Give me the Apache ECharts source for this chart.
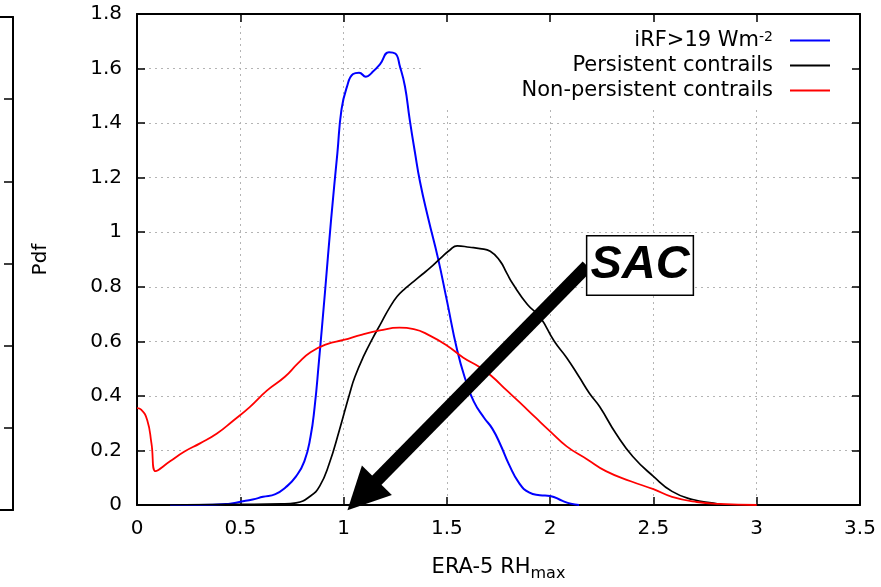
<!DOCTYPE html>
<html>
<head>
<meta charset="utf-8">
<script src="https://cdn.jsdelivr.net/npm/echarts@6/dist/echarts.min.js"></script>
<style>
html, body { margin: 0; padding: 0; background: #fff; }
#chart { width: 881px; height: 587px; }
</style>
</head>
<body>
<div id="chart"></div>
<script>
// pdf curves, [RHmax, pdf]
var irfHigh = [
    [0.16, 0], [0.3, 0], [0.45, 0.005], [0.5, 0.012], [0.56, 0.02], [0.61, 0.03], [0.67, 0.04],
    [0.72, 0.065], [0.77, 0.105], [0.81, 0.16], [0.84, 0.25], [0.86, 0.36], [0.88, 0.52],
    [0.91, 0.78], [0.94, 1.05], [0.97, 1.29], [0.99, 1.45], [1.015, 1.53], [1.046, 1.58], [1.075, 1.585],
    [1.108, 1.57], [1.137, 1.585], [1.176, 1.615], [1.22, 1.66], [1.25, 1.655], [1.273, 1.607],
    [1.297, 1.535], [1.32, 1.414], [1.345, 1.295], [1.37, 1.185], [1.41, 1.05], [1.457, 0.905],
    [1.5, 0.75], [1.55, 0.567], [1.59, 0.46], [1.63, 0.38], [1.68, 0.32], [1.72, 0.28], [1.76, 0.22],
    [1.8, 0.15], [1.85, 0.08], [1.9, 0.045], [1.95, 0.036], [2.0, 0.033], [2.06, 0.015], [2.1, 0.005],
    [2.14, 0]
];
var persistent = [
    [0.1, 0], [0.5, 0.002], [0.7, 0.004], [0.77, 0.008], [0.84, 0.033], [0.885, 0.07], [0.93, 0.15],
    [0.98, 0.275], [1.03, 0.41], [1.055, 0.47], [1.1, 0.55], [1.14, 0.61], [1.18, 0.665], [1.22, 0.72],
    [1.26, 0.765], [1.3, 0.795], [1.34, 0.82], [1.38, 0.845], [1.42, 0.87], [1.47, 0.905], [1.515, 0.935],
    [1.55, 0.95], [1.61, 0.945], [1.66, 0.94], [1.71, 0.93], [1.757, 0.895], [1.79, 0.85], [1.82, 0.81],
    [1.89, 0.735], [1.95, 0.69], [2.02, 0.6], [2.08, 0.54], [2.14, 0.47], [2.19, 0.41], [2.24, 0.36],
    [2.32, 0.26], [2.4, 0.178], [2.5, 0.105], [2.59, 0.05], [2.69, 0.02], [2.79, 0.007], [2.86, 0],
    [2.9, 0]
];
var nonPersistent = [
    [0, 0.355], [0.02, 0.35], [0.05, 0.31], [0.07, 0.226], [0.09, 0.124], [0.16, 0.16], [0.23, 0.196],
    [0.305, 0.226], [0.387, 0.262], [0.467, 0.31], [0.547, 0.36], [0.63, 0.42], [0.716, 0.47],
    [0.78, 0.52], [0.84, 0.56], [0.92, 0.59], [1.0, 0.605], [1.09, 0.625], [1.176, 0.64], [1.27, 0.65],
    [1.34, 0.645], [1.42, 0.62], [1.5, 0.585], [1.58, 0.54], [1.66, 0.505], [1.72, 0.47], [1.79, 0.42],
    [1.85, 0.378], [1.93, 0.32], [2.0, 0.27], [2.08, 0.215], [2.18, 0.167], [2.27, 0.124], [2.39, 0.087],
    [2.5, 0.058], [2.59, 0.03], [2.71, 0.011], [2.82, 0.004], [3.0, 0]
];
var seriesNames = ['iRF>19 Wm-2', 'Persistent contrails', 'Non-persistent contrails'];
var seriesColors = ['#0000ff', '#000000', '#ff0000'];

// axis ranges: [min, max, interval]
var xRange = [0, 3.5, 0.5];
var yRange = [0, 1.8, 0.2];

// SAC annotation (data coords)
var sacText = 'SAC';
var sacPos = [2.435, 0.878];
var arrowFrom = [2.18, 0.876];
var arrowTo = [1.09, 0.036];

var font = 'DejaVu Sans';
var gridLine = { show: true, lineStyle: { color: '#b4b4b4', width: 1, type: [2, 4] } };
var black = { color: '#000', width: 2 };
var tick = { show: true, inside: true, length: 8, lineStyle: { color: '#000', width: 1.5 } };

var chart = echarts.init(document.getElementById('chart'));

function mirrorAxis(pos, range) {
    return {
        type: 'value', gridIndex: 0, position: pos, z: 5,
        min: range[0], max: range[1], interval: range[2],
        axisLine: { show: true, onZero: false, lineStyle: black },
        axisTick: tick,
        axisLabel: { show: false },
        splitLine: { show: false }
    };
}

function edgeAxis(pos) {
    return {
        type: 'value', gridIndex: 1, min: 0, max: 1, position: pos,
        axisLine: { show: true, onZero: false, lineStyle: black },
        axisTick: { show: false }, axisLabel: { show: false }, splitLine: { show: false }
    };
}

var option = {
    animation: false,
    backgroundColor: '#fff',
    grid: [
        { left: 137, right: 21, top: 14, bottom: 78 },
        // edge of the neighbouring panel
        { left: 0, right: 868, top: 17, bottom: 77 }
    ],
    legend: {
        orient: 'vertical',
        align: 'right',
        right: 23,
        top: 16,
        padding: [14, 28, 6, 100],
        backgroundColor: '#fff',
        z: 3,
        itemWidth: 40,
        itemHeight: 2,
        itemGap: 4,
        selectedMode: false,
        icon: 'rect',
        data: seriesNames,
        formatter: function(name) {
            if (name === seriesNames[0]) {
                return '{n|iRF>19 Wm}{s|-2}';
            }
            return '{n|' + name + '}';
        },
        textStyle: {
            padding: [0, 12, 0, 0],
            rich: {
                n: { fontFamily: font, fontSize: 21, lineHeight: 20, color: '#000' },
                s: { fontFamily: font, fontSize: 14, lineHeight: 14, verticalAlign: 'top', color: '#000' }
            }
        }
    },
    xAxis: [
        {
            type: 'value', gridIndex: 0,
            min: xRange[0], max: xRange[1], interval: xRange[2],
            name: '{n|ERA-5 RH}{s|max}',
            nameLocation: 'middle',
            nameGap: 49,
            nameTextStyle: {
                rich: {
                    n: { fontFamily: font, fontSize: 21, color: '#000' },
                    s: { fontFamily: font, fontSize: 16, color: '#000', padding: [12, 0, 0, 0] }
                }
            },
            axisLine: { show: true, onZero: false, lineStyle: black },
            axisTick: tick,
            axisLabel: { fontFamily: font, fontSize: 20, color: '#000', margin: 14 },
            splitLine: gridLine
        },
        mirrorAxis('top', xRange),
        edgeAxis('bottom'),
        edgeAxis('top')
    ],
    yAxis: [
        {
            type: 'value', gridIndex: 0,
            min: yRange[0], max: yRange[1], interval: yRange[2],
            name: 'Pdf',
            nameLocation: 'middle',
            nameGap: 86,
            nameTextStyle: { fontFamily: font, fontSize: 20, color: '#000' },
            axisLine: { show: true, onZero: false, lineStyle: black },
            axisTick: tick,
            axisLabel: { fontFamily: font, fontSize: 20, color: '#000', margin: 15 },
            splitLine: gridLine
        },
        mirrorAxis('right', yRange),
        {
            type: 'value', gridIndex: 1, min: 0, max: 6, interval: 1, position: 'right',
            axisLine: { show: true, onZero: false, lineStyle: black },
            axisTick: { show: true, inside: true, length: 9, lineStyle: { color: '#000', width: 1.5 } },
            axisLabel: { show: false }, splitLine: { show: false }
        }
    ],
    series: [
        {
            name: seriesNames[0], type: 'line', data: irfHigh,
            showSymbol: false, smooth: 0.5,
            lineStyle: { color: seriesColors[0], width: 2 },
            itemStyle: { color: seriesColors[0] }
        },
        {
            name: seriesNames[1], type: 'line', data: persistent,
            showSymbol: false, smooth: 0.5,
            lineStyle: { color: seriesColors[1], width: 1.7 },
            itemStyle: { color: seriesColors[1] }
        },
        {
            name: seriesNames[2], type: 'line', data: nonPersistent,
            showSymbol: false, smooth: 0.5,
            lineStyle: { color: seriesColors[2], width: 1.8 },
            itemStyle: { color: seriesColors[2] },
            markLine: {
                silent: true,
                symbol: ['none', 'triangle'],
                symbolSize: 42,
                label: { show: false },
                lineStyle: { color: '#000', width: 13, type: 'solid' },
                itemStyle: { color: '#000' },
                data: [[{ coord: arrowFrom }, { coord: arrowTo }]]
            },
            markPoint: {
                silent: true,
                symbol: 'rect',
                symbolSize: 1,
                itemStyle: { color: 'rgba(0,0,0,0)' },
                label: {
                    show: true,
                    position: 'inside',
                    formatter: sacText,
                    fontFamily: 'Liberation Sans',
                    fontSize: 47,
                    fontWeight: 'bold',
                    fontStyle: 'italic',
                    color: '#000',
                    lineHeight: 50,
                    backgroundColor: '#fff',
                    borderColor: '#000',
                    borderWidth: 1.5,
                    padding: [5, 3, 3, 3]
                },
                data: [{ coord: sacPos }]
            }
        }
    ]
};

chart.setOption(option);
</script>
</body>
</html>
